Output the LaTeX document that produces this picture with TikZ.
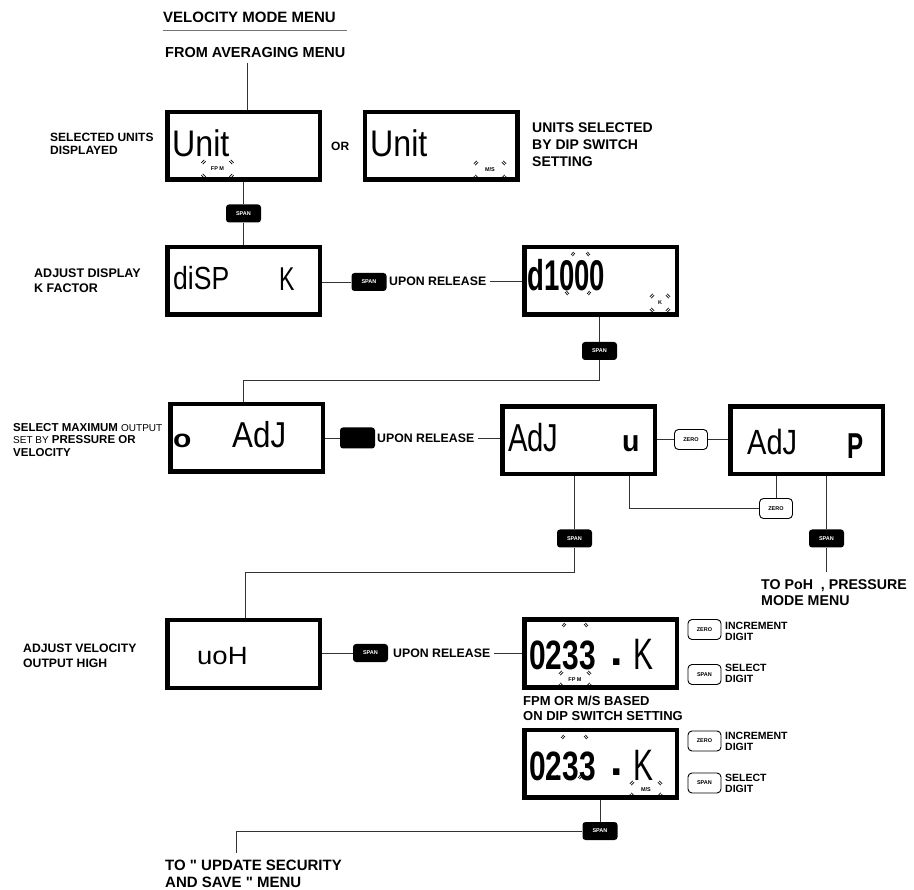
\documentclass[tikz,border=0pt]{standalone}
\usepackage{fontspec}
\usepackage{graphicx}
\setmainfont{Liberation Sans}
\newfontfamily\lcdfont{Liberation Sans}
\usetikzlibrary{calc}
\newcommand{\lcdt}[3]{\fontsize{#1}{#1}\selectfont\scalebox{#2}[1]{#3}}
\newcommand{\qq}{{\lcdfont\symbol{34}}}
\newcommand{\blinkset}[4]{%
  \pic[rotate=45] at ({#1-#3},{#2-#4}) {blk};
  \pic[rotate=-45] at ({#1+#3},{#2-#4}) {blk};
  \pic[rotate=-45] at ({#1-#3},{#2+#4}) {blk};
  \pic[rotate=45] at ({#1+#3},{#2+#4}) {blk};}
\tikzset{
  lcdbox/.style={draw=black, line width=4.5pt, minimum width=152.5pt, minimum height=67.5pt, inner sep=0pt},
  lcd/.style={inner sep=0pt, anchor=base west},
  spanb/.style={fill=black, rounded corners=3pt, minimum width=35pt, minimum height=18pt, inner sep=0pt, text=white, font=\bfseries\fontsize{5.5}{6}\selectfont},
  zerob/.style={draw=black, line width=0.9pt, fill=white, rounded corners=4pt, minimum width=33pt, minimum height=20pt, inner sep=0pt, font=\bfseries\fontsize{5.5}{6}\selectfont},
  conn/.style={draw=black!80, line width=0.9pt},
  lab/.style={inner sep=0pt, anchor=north west, align=left, font=\bfseries\fontsize{12}{12.5}\selectfont},
  ind/.style={inner sep=0pt, font=\bfseries\fontsize{5.5}{6}\selectfont},
  blk/.pic={\draw[line width=0.7pt] (-2,-0.9)--(2,-0.9) (-2,0.9)--(2,0.9);},
}
\begin{document}
\begin{tikzpicture}[x=1pt,y=-1pt]
\useasboundingbox (0,0) rectangle (914,890);
% title
\node[lab, font=\bfseries\fontsize{15}{16}\selectfont] (title) at (163,12) {VELOCITY MODE MENU};
\draw[draw=black!55, line width=1pt] ($(title.south west)+(0,7)$) -- ($(title.south east)+(11,7)$);
\node[lab, font=\bfseries\fontsize{14.5}{15}\selectfont] (from) at (165,47) {FROM AVERAGING MENU};
% row 1
\node[lcdbox] (B1) at (243.5,146) {};
\node[lcd, font=\lcdfont] (B1t) at (172,157) {\lcdt{37}{0.87}{Unit}};
\node[ind] (B1i) at (217.5,169) {FP M};
\blinkset{217.5}{169}{14}{7}
\node[lab] (L1) at (50,133) {SELECTED UNITS\\DISPLAYED};
\node[lab] (or) at (331,142) {OR};
\node[lcdbox] (B2) at (441,146) {};
\node[lcd, font=\lcdfont] (B2t) at (370,157) {\lcdt{37}{0.87}{Unit}};
\node[ind] (B2i) at (490,170) {M/S};
\blinkset{490}{170}{14}{7}
\node[lab, font=\bfseries\fontsize{14}{16.7}\selectfont] (R2) at (532,123) {UNITS SELECTED\\BY DIP SWITCH\\SETTING};
\coordinate (f0) at (247,63);
\draw[conn] (f0) -- (f0 |- B1.north);
\node[spanb] (S1) at (243.5,213.5) {SPAN};
% row 2
\node[lcdbox] (B3) at (243.5,281) {};
\node[lcd, font=\lcdfont] (B3t) at (173,290) {\lcdt{32}{0.83}{diSP}};
\node[lcd, font=\lcdfont] (B3k) at (279,291) {\lcdt{33}{0.7}{K}};
\node[lab, font=\bfseries\fontsize{12.5}{14.5}\selectfont] (L3) at (34,269) {ADJUST DISPLAY\\K FACTOR};
\draw[conn] (B1.south) -- (S1.north);
\draw[conn] (S1.south) -- (B3.north);
\node[spanb] (S2) at (369,282) {SPAN};
\node[lab, anchor=west, font=\bfseries\fontsize{12.3}{13}\selectfont] (U1) at (389,281) {UPON RELEASE};
\node[lcdbox] (B4) at (600.5,281) {};
\node[lcd, font=\lcdfont\bfseries] (B4t) at (527,291) {\lcdt{43}{0.64}{d1000}};
\pic[rotate=50] at (573,254) {blk};
\pic[rotate=-50] at (588,254) {blk};
\pic[rotate=-50] at (567,293) {blk};
\pic[rotate=50] at (589,293) {blk};
\node[ind] (B4i) at (660,303) {K};
\blinkset{660}{303}{8}{7}
\draw[conn] (S2.west) -- (S2.west -| B3.east);
\draw[conn] ($(U1.east)+(4,0)$) -- (B4.west |- U1.east);
\node[spanb] (S3) at (599.5,351) {SPAN};
\draw[conn] (B4.south -| S3) -- (S3.north);
% row 3
\node[lcdbox] (B5) at (246.5,438) {};
\node[lcd, font=\lcdfont\bfseries] (B5o) at (173,448) {\lcdt{25}{1.2}{o}};
\node[lcd, font=\lcdfont] (B5t) at (232,448) {\lcdt{36}{0.87}{AdJ}};
\coordinate (j1) at (243,380);
\draw[conn] (S3.south) |- (j1) -- (j1 |- B5.north);
\node[lab, font=\fontsize{11.5}{12.5}\selectfont] (L5) at (13,423) {\textbf{SELECT MAXIMUM} {\mdseries\fontsize{10}{12.5}\selectfont OUTPUT}\\{\mdseries\fontsize{10}{12.5}\selectfont SET BY} \textbf{PRESSURE OR}\\\textbf{VELOCITY}};
\node[spanb, minimum height=21pt] (K5) at (357.5,438) {};
\node[lab, anchor=west, font=\bfseries\fontsize{12.3}{13}\selectfont] (U2) at (377,438) {UPON RELEASE};
\draw[conn] (B5.east) -- (K5.west);
\node[lcdbox] (B6) at (578.5,440.5) {};
\node[lcd, font=\lcdfont] (B6t) at (508,452) {\lcdt{39}{0.75}{AdJ}};
\node[lcd, font=\lcdfont\bfseries] (B6u) at (622,452) {\lcdt{30}{0.95}{u}};
\draw[conn] ($(U2.east)+(4,0)$) -- (B6.west |- U2.east);
\node[zerob] (Z1) at (691,439.5) {ZERO};
\node[lcdbox] (B7) at (806.5,440.5) {};
\node[lcd, font=\lcdfont] (B7t) at (747,455) {\lcdt{35}{0.83}{AdJ}};
\node[lcd, font=\lcdfont\bfseries] (B7p) at (847,459) {\lcdt{36}{0.67}{P}};
\draw[conn] (Z1.west) -- (Z1.west -| B6.east);
\draw[conn] (Z1.east) -- (Z1.east -| B7.west);
\node[zerob] (Z2) at (776,508.5) {ZERO};
\draw[conn] ($(B6.south)+(50.5,0)$) |- (Z2.west);
\draw[conn] (B7.south -| Z2) -- (Z2.north);
\node[spanb] (S6) at (574.5,538.5) {SPAN};
\draw[conn] (B6.south -| S6) -- (S6.north);
\node[spanb] (S7) at (826.5,538.5) {SPAN};
\draw[conn] (B7.south -| S7) -- (S7.north);
\coordinate (j3) at (826.5,572);
\draw[conn] (S7.south) -- (j3);
\node[lab, font=\bfseries\fontsize{14.2}{16.5}\selectfont] (R7) at (761,579) {TO PoH~~, PRESSURE\\MODE MENU};
% row 4
\node[lcdbox] (B8) at (243.5,654) {};
\node[lcd, font=\lcdfont] (B8t) at (197,664) {\lcdt{25}{1.1}{uoH}};
\coordinate (j2) at (245,572);
\draw[conn] (S6.south) |- (j2) -- (j2 |- B8.north);
\node[lab, font=\bfseries\fontsize{12.2}{14.5}\selectfont] (L8) at (23,644) {ADJUST VELOCITY\\OUTPUT HIGH};
\node[spanb] (S8) at (370.5,653) {SPAN};
\node[lab, anchor=west, font=\bfseries\fontsize{12.3}{13}\selectfont] (U3) at (393,653) {UPON RELEASE};
\draw[conn] (S8.west) -- (S8.west -| B8.east);
\node[lcdbox] (B9) at (600.5,653.5) {};
\draw[conn] ($(U3.east)+(4,0)$) -- (B9.west |- U3.east);
\node[lcd, font=\lcdfont\bfseries] (B9t) at (529,670) {\lcdt{41}{0.73}{0233}};
\node[lcd, font=\lcdfont\bfseries] (B9d) at (610,665) {\lcdt{45}{1}{.}};
\node[lcd, font=\lcdfont] (B9k) at (633,670) {\lcdt{44}{0.68}{K}};
\pic[rotate=50] at (564,625) {blk};
\pic[rotate=-50] at (586,625) {blk};
\pic[rotate=50] at (582,663) {blk};
\node[ind] (B9i) at (575,680) {FP M};
\blinkset{575}{679}{14}{6}
\node[zerob] (Z9) at (704.5,629.5) {ZERO};
\node[zerob] (P9) at (704.5,674.5) {SPAN};
\node[lab, font=\bfseries\fontsize{10.5}{10.5}\selectfont] (R9a) at (725,622) {INCREMENT\\DIGIT};
\node[lab, font=\bfseries\fontsize{10.5}{10.5}\selectfont] (R9b) at (725,664) {SELECT\\DIGIT};
\node[lab, font=\bfseries\fontsize{13}{15}\selectfont] (F9) at (523,696) {FPM OR M/S BASED\\ON DIP SWITCH SETTING};
% row 5
\node[lcdbox] (B10) at (600.5,763.5) {};
\node[lcd, font=\lcdfont\bfseries] (B10t) at (529,780) {\lcdt{41}{0.73}{0233}};
\node[lcd, font=\lcdfont\bfseries] (B10d) at (610,775) {\lcdt{45}{1}{.}};
\node[lcd, font=\lcdfont] (B10k) at (633,780) {\lcdt{44}{0.68}{K}};
\pic[rotate=50] at (563,737) {blk};
\pic[rotate=-50] at (586,737) {blk};
\pic[rotate=50] at (557,777) {blk};
\pic[rotate=50] at (580,777) {blk};
\node[ind] (B10i) at (646,790) {M/S};
\blinkset{646}{789}{14}{6}
\node[zerob] (Z10) at (704.5,741) {ZERO};
\node[zerob] (P10) at (704.5,783) {SPAN};
\node[lab, font=\bfseries\fontsize{10.5}{10.5}\selectfont] (R10a) at (725,732) {INCREMENT\\DIGIT};
\node[lab, font=\bfseries\fontsize{10.5}{10.5}\selectfont] (R10b) at (725,774) {SELECT\\DIGIT};
\node[spanb] (S10) at (600,831) {SPAN};
\draw[conn] (B10.south -| S10) -- (S10.north);
\coordinate (j4) at (236,853);
\draw[conn] (S10.west) -| (j4);
\node[lab, font=\bfseries\fontsize{15}{17}\selectfont] (R11) at (165,860) {TO \qq{} UPDATE SECURITY\\AND SAVE \qq{} MENU};
\end{tikzpicture}
\end{document}
